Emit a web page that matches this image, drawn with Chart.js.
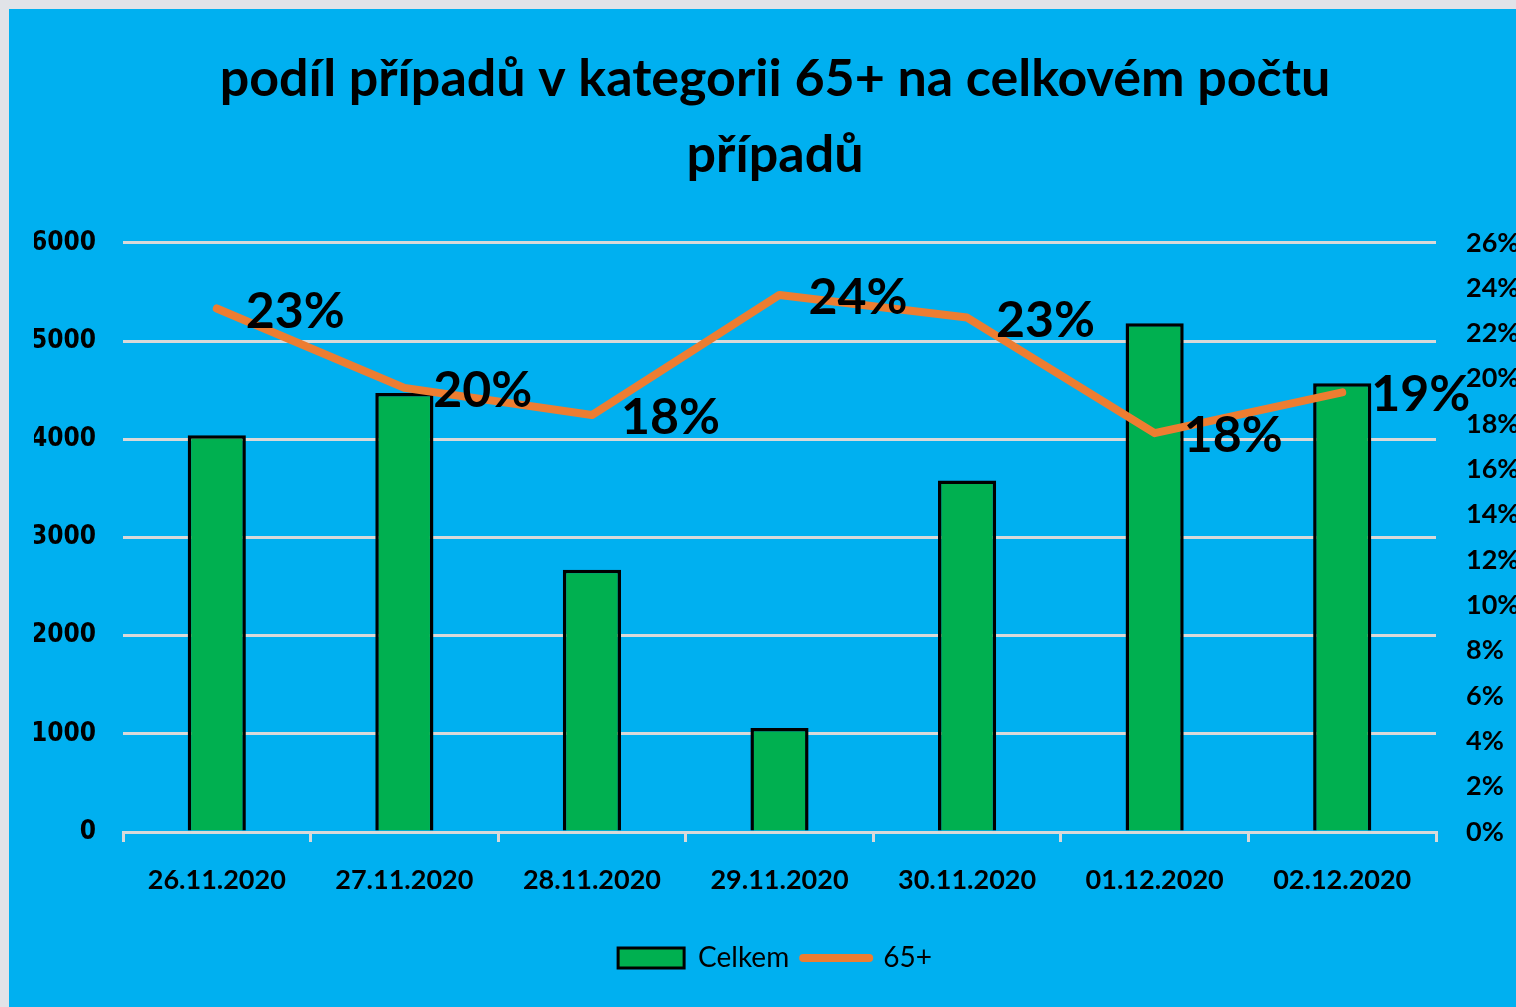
<!DOCTYPE html>
<html lang="cs">
<head>
    <meta charset="UTF-8">
    <title>podíl případů v kategorii 65+</title>
    <script src="https://cdnjs.cloudflare.com/ajax/libs/Chart.js/4.4.0/chart.umd.min.js"></script>
    <style>
        body {
            margin: 0;
            background: #e1e3e8;
            overflow: hidden;
        }
        .chart-box {
            position: absolute;
            left: 9px;
            top: 9px;
            width: 1507px;
            height: 998px;
            background: #00b0f0;
        }
    </style>
</head>
<body>
    <div class="chart-box">
        <canvas id="chart" width="1507" height="998"></canvas>
    </div>

    <script>
        // data
        const dates = ['26.11.2020', '27.11.2020', '28.11.2020', '29.11.2020', '30.11.2020', '01.12.2020', '02.12.2020'];
        const celkem = [4040, 4470, 2670, 1060, 3580, 5180, 4570];
        const share65 = [0.231, 0.196, 0.184, 0.237, 0.227, 0.176, 0.194];

        const gridColor = '#d9d9d9';
        const fontMain = 'Lato, "Open Sans", sans-serif';

        // percent labels to the right of the line points
        const pointLabels = {
            id: 'pointLabels',
            afterDatasetsDraw(chart) {
                const meta = chart.getDatasetMeta(1);
                const ctx = chart.ctx;
                ctx.save();
                ctx.font = 'bold 50px ' + fontMain;
                ctx.fillStyle = '#000';
                ctx.textAlign = 'left';
                ctx.textBaseline = 'middle';
                meta.data.forEach((pt, i) => {
                    ctx.fillText(Math.round(share65[i] * 100) + '%', pt.x + 29, pt.y + 3);
                });
                ctx.restore();
            }
        };

        new Chart(document.getElementById('chart'), {
            type: 'bar',
            data: {
                labels: dates,
                datasets: [{
                    label: 'Celkem',
                    data: celkem,
                    backgroundColor: '#00b050',
                    borderColor: '#000',
                    borderWidth: 3.5,
                    barPercentage: 0.31,
                    categoryPercentage: 1,
                    yAxisID: 'y',
                    order: 2
                }, {
                    type: 'line',
                    label: '65+',
                    data: share65,
                    borderColor: '#ed7d31',
                    backgroundColor: '#ed7d31',
                    borderWidth: 8,
                    borderCapStyle: 'round',
                    borderJoinStyle: 'round',
                    pointRadius: 0,
                    tension: 0,
                    yAxisID: 'y1',
                    order: 1
                }]
            },
            options: {
                responsive: false,
                animation: false,
                devicePixelRatio: 1,
                layout: {
                    padding: { left: 25, right: 0, top: 0, bottom: 25 }
                },
                plugins: {
                    title: {
                        display: true,
                        text: ['podíl případů v kategorii 65+ na celkovém počtu', 'případů'],
                        color: '#000',
                        font: { family: fontMain, size: 52, weight: 'bold', lineHeight: 1.45 },
                        padding: { top: 33, bottom: 50 }
                    },
                    legend: {
                        position: 'bottom',
                        labels: {
                            color: '#000',
                            font: { family: fontMain, size: 28 },
                            usePointStyle: true,
                            pointStyleWidth: 66,
                            boxHeight: 20,
                            padding: 14,
                            generateLabels(chart) {
                                return [{
                                    text: 'Celkem',
                                    fillStyle: '#00b050',
                                    strokeStyle: '#000',
                                    lineWidth: 3,
                                    pointStyle: 'rect',
                                    fontColor: '#000',
                                    datasetIndex: 0
                                }, {
                                    text: '65+',
                                    fillStyle: '#ed7d31',
                                    strokeStyle: '#ed7d31',
                                    lineWidth: 8,
                                    lineCap: 'round',
                                    pointStyle: 'line',
                                    fontColor: '#000',
                                    datasetIndex: 1
                                }];
                            }
                        }
                    },
                    tooltip: { enabled: false }
                },
                scales: {
                    x: {
                        offset: true,
                        afterFit(scale) { scale.height = 98; },
                        grid: {
                            offset: true,
                            drawOnChartArea: false,
                            drawTicks: true,
                            tickLength: 10,
                            color: gridColor,
                            lineWidth: 3
                        },
                        border: { display: true, color: gridColor, width: 3 },
                        ticks: {
                            color: '#000',
                            padding: 22,
                            maxRotation: 0,
                            font: { family: fontMain, size: 27, weight: 'bold' }
                        }
                    },
                    y: {
                        position: 'left',
                        min: 0,
                        max: 6000,
                        afterFit(scale) { scale.width = 89; },
                        grid: {
                            color: gridColor,
                            lineWidth: 3,
                            drawTicks: false
                        },
                        border: { display: false },
                        ticks: {
                            stepSize: 1000,
                            color: '#000',
                            padding: 27,
                            font: { family: '"DejaVu Sans Condensed", "DejaVu Sans", sans-serif', size: 26, weight: 'bold' },
                            callback: v => String(v)
                        }
                    },
                    y1: {
                        position: 'right',
                        min: 0,
                        max: 0.26,
                        afterFit(scale) { scale.width = 80; },
                        grid: { drawOnChartArea: false, drawTicks: false },
                        border: { display: false },
                        ticks: {
                            stepSize: 0.02,
                            color: '#000',
                            padding: 30,
                            font: { family: fontMain, size: 27, weight: 'bold' },
                            callback: v => Math.round(v * 100) + '%'
                        }
                    }
                }
            },
            plugins: [pointLabels]
        });
    </script>
</body>
</html>
